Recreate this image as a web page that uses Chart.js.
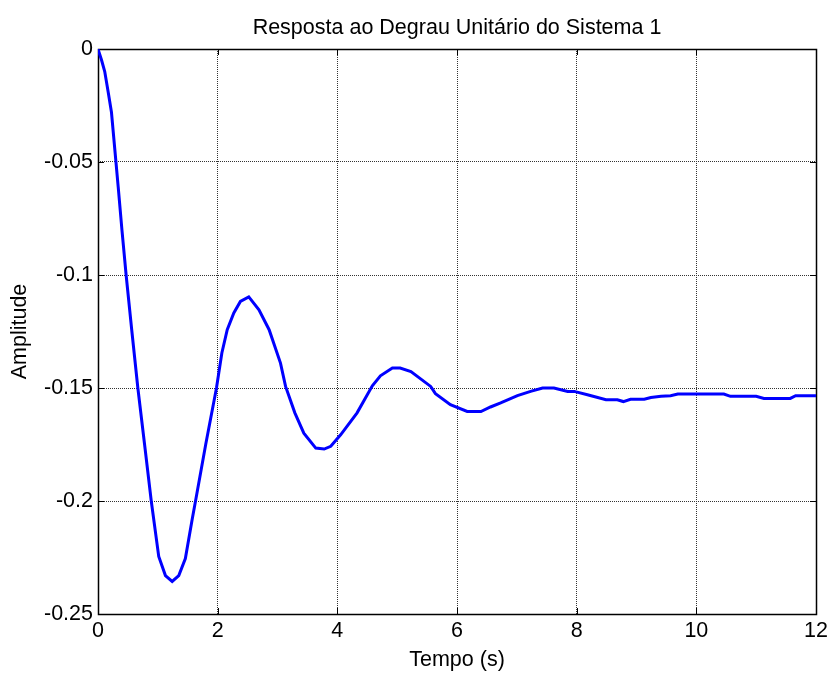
<!DOCTYPE html>
<html>
<head>
<meta charset="utf-8">
<script src="https://cdn.jsdelivr.net/npm/chart.js@4/dist/chart.umd.min.js"></script>
<style>
  html, body { margin: 0; padding: 0; background: #fff; }
  #wrap { width: 829px; height: 673px; }
</style>
</head>
<body>
<div id="wrap"><canvas id="c" width="829" height="673"></canvas></div>
<script>
// Step response samples: time (s) and amplitude
const tempo = [
  0, 0.06, 0.1125, 0.17, 0.225, 0.30, 0.3375, 0.40, 0.47, 0.5625,
  0.666, 0.7875, 0.89, 1.015, 1.127, 1.24, 1.35, 1.46, 1.575, 1.63,
  1.80, 1.98, 2.07, 2.16, 2.27, 2.38, 2.52, 2.69, 2.86, 3.05,
  3.135, 3.29, 3.44, 3.64, 3.78, 3.89, 4.055, 4.33, 4.585, 4.72,
  4.92, 5.05, 5.23, 5.56, 5.64, 5.89, 6.17, 6.40, 6.56, 6.73,
  7.01, 7.23, 7.43, 7.62, 7.85, 7.96, 8.18, 8.49, 8.68, 8.78,
  8.90, 9.13, 9.24, 9.41, 9.57, 9.69, 10.46, 10.57, 11.0, 11.13,
  11.57, 11.66, 12.0
];
const amplitude = [
  0, -0.005, -0.010, -0.019, -0.028, -0.050, -0.061, -0.080, -0.100, -0.124,
  -0.150, -0.177, -0.200, -0.2245, -0.233, -0.2356, -0.233, -0.2255, -0.208, -0.200,
  -0.175, -0.150, -0.1345, -0.1242, -0.1168, -0.1117, -0.1097, -0.1154, -0.1242, -0.139,
  -0.1493, -0.161, -0.170, -0.1766, -0.177, -0.1758, -0.1707, -0.161, -0.149, -0.1446,
  -0.1412, -0.1412, -0.1427, -0.1493, -0.1525, -0.1574, -0.1604, -0.1604, -0.1584, -0.1566,
  -0.1534, -0.1515, -0.150, -0.150, -0.1515, -0.1515, -0.153, -0.1552, -0.1552, -0.156,
  -0.155, -0.155, -0.1542, -0.1537, -0.1534, -0.1527, -0.1527, -0.1537, -0.1537, -0.1546,
  -0.1546, -0.1534, -0.1534
];

// Axis ticks
const xTicks = [0, 2, 4, 6, 8, 10, 12];
const xTickLabels = ['0', '2', '4', '6', '8', '10', '12'];
const yTicks = [0, -0.05, -0.1, -0.15, -0.2, -0.25];
const yTickLabels = ['0', '-0.05', '-0.1', '-0.15', '-0.2', '-0.25'];

const FONT = "'Liberation Sans', Arial, Helvetica, sans-serif";
const FSIZE = 21.5;

// Axes box with inward tick marks on all four sides
const boxPlugin = {
  id: 'axesBox',
  beforeDatasetsDraw(chart) {
    const { ctx, chartArea: a, scales } = chart;
    const L = 6;
    ctx.save();
    ctx.strokeStyle = '#000';
    ctx.lineWidth = 1;
    ctx.beginPath();
    xTicks.forEach(v => {
      const x = Math.round(scales.x.getPixelForValue(v)) + 0.5;
      ctx.moveTo(x, a.bottom); ctx.lineTo(x, a.bottom - L);
      ctx.moveTo(x, a.top); ctx.lineTo(x, a.top + L);
    });
    yTicks.forEach(v => {
      const y = Math.round(scales.y.getPixelForValue(v)) + 0.5;
      ctx.moveTo(a.left, y); ctx.lineTo(a.left + L, y);
      ctx.moveTo(a.right, y); ctx.lineTo(a.right - L, y);
    });
    ctx.stroke();
    ctx.lineWidth = 1.5;
    ctx.strokeRect(Math.round(a.left) + 0.5, Math.round(a.top) + 0.5,
                   Math.round(a.right - a.left), Math.round(a.bottom - a.top));
    ctx.restore();
  }
};

new Chart(document.getElementById('c'), {
  type: 'line',
  data: {
    datasets: [{
      data: tempo.map((t, i) => ({ x: t, y: amplitude[i] })),
      borderColor: '#0000ff',
      borderWidth: 3,
      pointRadius: 0,
      tension: 0,
      fill: false
    }]
  },
  options: {
    responsive: false,
    animation: false,
    devicePixelRatio: 1,
    layout: { padding: { top: 0, left: 0, right: 13, bottom: 0 } },
    plugins: {
      legend: { display: false },
      tooltip: { enabled: false },
      title: {
        display: true,
        fullSize: false,
        text: 'Resposta ao Degrau Unitário do Sistema 1',
        color: '#000',
        font: { family: FONT, size: FSIZE, weight: 'normal', lineHeight: 1.2 },
        padding: { top: 15.6, bottom: 7.6 }
      }
    },
    scales: {
      x: {
        type: 'linear',
        min: 0, max: 12,
        afterBuildTicks(s) { s.ticks = xTicks.map(v => ({ value: v })); },
        afterFit(s) { s.height = 59; s.paddingLeft = 0; s.paddingRight = 0; },
        ticks: {
          color: '#000',
          font: { family: FONT, size: FSIZE },
          padding: 4,
          maxRotation: 0,
          autoSkip: false,
          callback: (v) => xTickLabels[xTicks.indexOf(v)]
        },
        grid: { color: '#333', lineWidth: 1, drawTicks: false },
        border: { display: false, dash: [1, 1] },
        title: {
          display: true,
          text: 'Tempo (s)',
          color: '#000',
          font: { family: FONT, size: FSIZE, lineHeight: 1.2 },
          padding: { top: 0, bottom: 0 }
        }
      },
      y: {
        type: 'linear',
        min: -0.25, max: 0,
        afterBuildTicks(s) { s.ticks = yTicks.map(v => ({ value: v })); },
        afterFit(s) { s.width = 98; s.paddingTop = 0; s.paddingBottom = 0; },
        ticks: {
          color: '#000',
          font: { family: FONT, size: FSIZE },
          padding: 5,
          autoSkip: false,
          callback: (v) => yTickLabels[yTicks.findIndex(t => Math.abs(t - v) < 1e-9)]
        },
        grid: { color: '#333', lineWidth: 1, drawTicks: false },
        border: { display: false, dash: [1, 1] },
        title: {
          display: true,
          text: 'Amplitude',
          color: '#000',
          font: { family: FONT, size: FSIZE, lineHeight: 1.2 },
          padding: { top: 7, bottom: 0 }
        }
      }
    }
  },
  plugins: [boxPlugin]
});
</script>
</body>
</html>
